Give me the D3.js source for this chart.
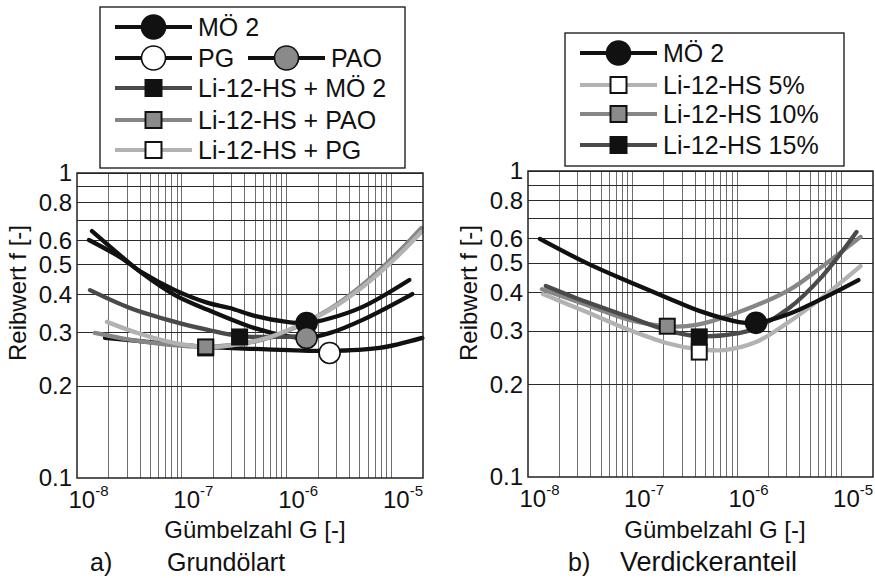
<!DOCTYPE html>
<html>
<head>
<meta charset="utf-8">
<script src="https://cdn.jsdelivr.net/npm/d3@7"></script>
<style>
  body { margin: 0; background: #fff; }
  text { font-family: "Liberation Sans", Arial, sans-serif; fill: #111; }
</style>
</head>
<body>
<svg id="chart" width="875" height="578"></svg>
<script>
// axis values
const gMajor = [1e-8, 1e-7, 1e-6, 1e-5];
const gMajorExp = ["-8", "-7", "-6", "-5"];
const fTickVals = [0.1, 0.2, 0.3, 0.4, 0.5, 0.6, 0.8, 1];
const fTickLabels = ["0.1", "0.2", "0.3", "0.4", "0.5", "0.6", "0.8", "1"];
const fGridVals = [0.2, 0.3, 0.4, 0.5, 0.6, 0.7, 0.8, 0.9, 1];

// a) Grundölart  -- [G, f]
const aMoe2 = [[1.3e-8,0.603],[2.57e-8,0.530],[4.16e-8,0.472],[8.6e-8,0.413],[1.77e-7,0.375],[2.87e-7,0.361],[4.95e-7,0.340],[1.0e-6,0.325],[1.55e-6,0.322],[2.6e-6,0.334],[5.3e-6,0.364],[1.48e-5,0.446]];
const aPao = [[1.39e-8,0.645],[2.57e-8,0.538],[4.16e-8,0.470],[8.6e-8,0.398],[1.77e-7,0.356],[4.95e-7,0.310],[1.0e-6,0.292],[1.55e-6,0.288],[2.6e-6,0.299],[5.3e-6,0.330],[1.58e-5,0.401]];
const aPg = [[1.85e-8,0.288],[4.95e-8,0.279],[1.69e-7,0.269],[4.95e-7,0.265],[2.57e-6,0.261],[7.7e-6,0.267],[1.97e-5,0.288]];
const aLiMoe2 = [[1.33e-8,0.413],[3.2e-8,0.361],[8.6e-8,0.325],[1.77e-7,0.306],[3.56e-7,0.292],[7.7e-7,0.290],[1.33e-6,0.292]];
const aLiPao = [[1.48e-8,0.299],[3.2e-8,0.284],[7.7e-8,0.273],[1.69e-7,0.269],[3.56e-7,0.275],[5.9e-7,0.284],[1.245e-6,0.313],[2.57e-6,0.358],[5.3e-6,0.430],[1.12e-5,0.543],[1.93e-5,0.660]];
const aLiPg = [[1.93e-8,0.325],[3.98e-8,0.297],[8.6e-8,0.277],[1.77e-7,0.269],[3.56e-7,0.275],[6.9e-7,0.290],[1.33e-6,0.318],[2.57e-6,0.356],[5.3e-6,0.423],[1.12e-5,0.530],[1.93e-5,0.641]];
const aMarks = { moe2: [1.55e-6, 0.322], pao: [1.55e-6, 0.288], pg: [2.57e-6, 0.257],
                 liMoe2: [3.56e-7, 0.290], liPao: [1.69e-7, 0.269], liPg: [1.69e-7, 0.267] };

// b) Verdickeranteil
const bMoe2 = [[1.3e-8,0.600],[3.65e-8,0.500],[9.35e-8,0.434],[2.4e-7,0.379],[4.35e-7,0.349],[1.045e-6,0.321],[1.52e-6,0.319],[3.13e-6,0.341],[6.46e-6,0.382],[1.45e-5,0.440]];
const b5 = [[1.39e-8,0.396],[3.65e-8,0.346],[9.35e-8,0.302],[2.11e-7,0.274],[4.07e-7,0.262],[7.5e-7,0.260],[1.52e-6,0.276],[3.13e-6,0.321],[6.46e-6,0.385],[1.52e-5,0.489]];
const b10 = [[1.36e-8,0.411],[3.65e-8,0.365],[9.35e-8,0.326],[2.11e-7,0.311],[4.07e-7,0.314],[1.045e-6,0.346],[3.13e-6,0.408],[6.46e-6,0.486],[1.52e-5,0.609]];
const b15 = [[1.48e-8,0.421],[3.65e-8,0.373],[9.35e-8,0.333],[2.11e-7,0.302],[4.07e-7,0.289],[1.045e-6,0.295],[1.52e-6,0.307],[3.13e-6,0.356],[6.46e-6,0.451],[1.39e-5,0.632]];
const bMarks = { moe2: [1.52e-6, 0.319], p5: [4.35e-7, 0.256], p10: [2.15e-7, 0.311], p15: [4.35e-7, 0.287] };

const BLACK = "#111", DARK = "#4a4a4a", MID = "#868686", LIGHT = "#b2b2b2";

const svg = d3.select("#chart");

function drawMarker(g, shape, cx, cy, fill, size) {
  if (shape === "circle") {
    g.append("circle").attr("cx", cx).attr("cy", cy).attr("r", size)
      .attr("fill", fill).attr("stroke", "#111").attr("stroke-width", 1.6);
  } else {
    g.append("rect").attr("x", cx - size).attr("y", cy - size)
      .attr("width", size * 2).attr("height", size * 2)
      .attr("fill", fill).attr("stroke", "#111").attr("stroke-width", 2);
  }
}

function panel(cfg) {
  const x = d3.scaleLog().domain([1e-8, 2e-5]).range([cfg.left, cfg.right]);
  const y = d3.scaleLog().domain([0.1, 1]).range([cfg.bottom, cfg.top]);
  const g = svg.append("g");

  // vertical grid (log minor + major)
  const vGrid = [];
  [-8, -7, -6, -5].forEach(k => d3.range(1, 10).forEach(m => {
    const v = m * Math.pow(10, k);
    if (v > 1.01e-8 && v < 1.99e-5) vGrid.push(v);
  }));
  g.selectAll(".vg").data(vGrid).enter().append("line")
    .attr("x1", d => x(d)).attr("x2", d => x(d))
    .attr("y1", cfg.top).attr("y2", cfg.bottom)
    .attr("stroke", "#6e6e6e").attr("stroke-width", 1).attr("shape-rendering", "crispEdges");
  g.selectAll(".hg").data(fGridVals).enter().append("line")
    .attr("x1", cfg.left).attr("x2", cfg.right)
    .attr("y1", d => y(d)).attr("y2", d => y(d))
    .attr("stroke", "#2a2a2a").attr("stroke-width", 1).attr("shape-rendering", "crispEdges");

  // y axis labels
  g.append("g").attr("transform", `translate(${cfg.left},0)`)
    .call(d3.axisLeft(y).tickValues(fTickVals).tickFormat((d, i) => fTickLabels[i]).tickSize(0).tickPadding(5))
    .call(a => a.select(".domain").remove())
    .selectAll("text").attr("font-size", 24).attr("font-family", null).attr("fill", "#111");

  // x axis labels with exponents
  const xa = g.append("g").attr("transform", `translate(0,${cfg.bottom})`)
    .call(d3.axisBottom(x).tickValues(gMajor).tickFormat("").tickSize(0))
    .call(a => a.select(".domain").remove());
  xa.selectAll(".tick text").each(function(d, i) {
    const t = d3.select(this).attr("text-anchor", "start").attr("x", -9)
      .attr("y", 30).attr("dy", null).attr("font-size", 24).attr("fill", "#111");
    t.append("tspan").text("10");
    t.append("tspan").attr("dy", -12).attr("font-size", 15).text(gMajorExp[i]);
  });

  // curves
  const line = d3.line().x(d => x(d[0])).y(d => y(d[1])).curve(d3.curveCatmullRom.alpha(0.5));
  cfg.series.forEach(s => {
    g.append("path").datum(s.data).attr("d", line)
      .attr("fill", "none").attr("stroke", s.color).attr("stroke-width", 4.3)
      .attr("stroke-linecap", "round");
  });
  cfg.marks.forEach(m => drawMarker(g, m.shape, x(m.at[0]), y(m.at[1]), m.fill, m.shape === "circle" ? 10.5 : 7.5));

  // frame
  g.append("rect").attr("x", cfg.left).attr("y", cfg.top)
    .attr("width", cfg.right - cfg.left).attr("height", cfg.bottom - cfg.top)
    .attr("fill", "none").attr("stroke", "#222").attr("stroke-width", 1.5);

  // axis titles
  svg.append("text").attr("x", cfg.xlabelX).attr("y", 538).attr("text-anchor", "middle")
    .attr("font-size", 24).text("Gümbelzahl G [-]");
  svg.append("text").attr("transform", `translate(${cfg.ylabelX},293) rotate(-90)`)
    .attr("text-anchor", "middle").attr("font-size", 24).text("Reibwert f [-]");
  svg.append("text").attr("x", cfg.capX).attr("y", 571).attr("font-size", 25).text(cfg.capTag);
  svg.append("text").attr("x", cfg.capX + cfg.capGap).attr("y", 571).attr("font-size", cfg.capSize).text(cfg.caption);
}

function legend(box, rows) {
  const g = svg.append("g");
  g.append("rect").attr("x", box.x).attr("y", box.y).attr("width", box.w).attr("height", box.h)
    .attr("fill", "#fff").attr("stroke", "#111").attr("stroke-width", 1.3);
  rows.forEach(r => {
    g.append("line").attr("x1", r.x).attr("x2", r.x + 77).attr("y1", r.y).attr("y2", r.y)
      .attr("stroke", r.color).attr("stroke-width", 4);
    drawMarker(g, r.shape, r.x + 38.5, r.y, r.fill, r.shape === "circle" ? 12 : 8);
    g.append("text").attr("x", r.x + 83).attr("y", r.y).attr("dy", "0.36em")
      .attr("font-size", 25).text(r.label);
  });
}

panel({
  left: 77, right: 423, top: 173, bottom: 478,
  xlabelX: 255, ylabelX: 26, capX: 90, capGap: 77, capTag: "a)", caption: "Grundölart", capSize: 25,
  series: [
    { data: aPg, color: BLACK }, { data: aMoe2, color: BLACK }, { data: aPao, color: BLACK },
    { data: aLiMoe2, color: DARK }, { data: aLiPao, color: MID }, { data: aLiPg, color: LIGHT }
  ],
  marks: [
    { at: aMarks.liPg, shape: "square", fill: "#fff" },
    { at: aMarks.liPao, shape: "square", fill: "#8a8a8a" },
    { at: aMarks.liMoe2, shape: "square", fill: "#111" },
    { at: aMarks.pg, shape: "circle", fill: "#fff" },
    { at: aMarks.moe2, shape: "circle", fill: "#111" },
    { at: aMarks.pao, shape: "circle", fill: "#8a8a8a" }
  ]
});

panel({
  left: 528, right: 873, top: 171, bottom: 477,
  xlabelX: 715, ylabelX: 477, capX: 568, capGap: 52, capTag: "b)", caption: "Verdickeranteil", capSize: 27,
  series: [
    { data: b5, color: LIGHT }, { data: b10, color: MID }, { data: b15, color: DARK }, { data: bMoe2, color: BLACK }
  ],
  marks: [
    { at: bMarks.p5, shape: "square", fill: "#fff" },
    { at: bMarks.p15, shape: "square", fill: "#111" },
    { at: bMarks.p10, shape: "square", fill: "#8a8a8a" },
    { at: bMarks.moe2, shape: "circle", fill: "#111" }
  ]
});

legend({ x: 100, y: 7, w: 305, h: 161 }, [
  { x: 115, y: 27, color: BLACK, shape: "circle", fill: "#111", label: "MÖ 2" },
  { x: 115, y: 58, color: BLACK, shape: "circle", fill: "#fff", label: "PG" },
  { x: 248, y: 58, color: BLACK, shape: "circle", fill: "#8a8a8a", label: "PAO" },
  { x: 115, y: 88, color: DARK, shape: "square", fill: "#111", label: "Li-12-HS + MÖ 2" },
  { x: 115, y: 120, color: MID, shape: "square", fill: "#8a8a8a", label: "Li-12-HS + PAO" },
  { x: 115, y: 150, color: LIGHT, shape: "square", fill: "#fff", label: "Li-12-HS + PG" }
]);

legend({ x: 565, y: 33, w: 279, h: 133 }, [
  { x: 580, y: 53, color: BLACK, shape: "circle", fill: "#111", label: "MÖ 2" },
  { x: 580, y: 85, color: LIGHT, shape: "square", fill: "#fff", label: "Li-12-HS 5%" },
  { x: 580, y: 114, color: MID, shape: "square", fill: "#8a8a8a", label: "Li-12-HS 10%" },
  { x: 580, y: 145, color: DARK, shape: "square", fill: "#111", label: "Li-12-HS 15%" }
]);
</script>
</body>
</html>
